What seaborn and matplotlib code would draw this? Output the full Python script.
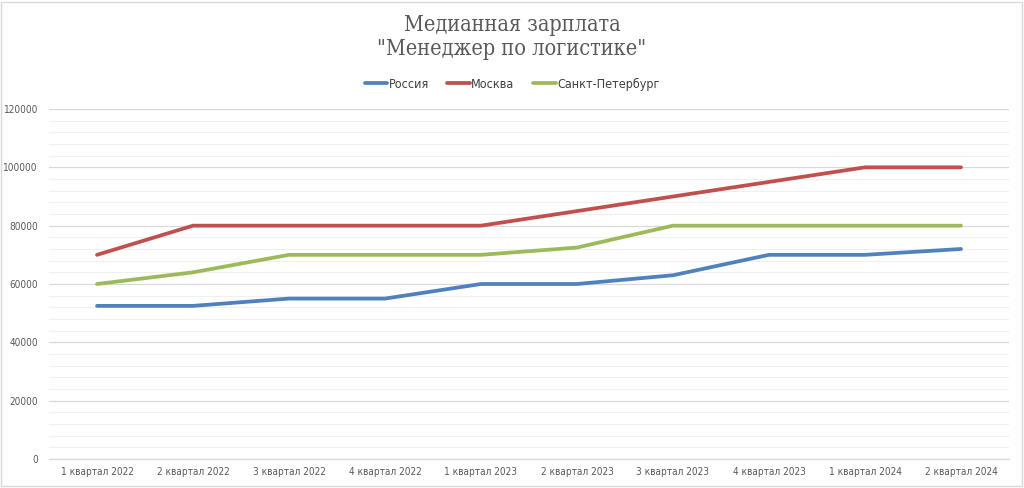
import matplotlib
matplotlib.use("Agg")
import matplotlib.pyplot as plt
import seaborn as sns
import pandas as pd
from matplotlib.ticker import MultipleLocator
from matplotlib.patches import Rectangle

quarters = ["1 квартал 2022", "2 квартал 2022", "3 квартал 2022", "4 квартал 2022",
            "1 квартал 2023", "2 квартал 2023", "3 квартал 2023", "4 квартал 2023",
            "1 квартал 2024", "2 квартал 2024"]
russia = [52500, 52500, 55000, 55000, 60000, 60000, 63000, 70000, 70000, 72000]
moscow = [70000, 80000, 80000, 80000, 80000, 85000, 90000, 95000, 100000, 100000]
spb = [60000, 64000, 70000, 70000, 70000, 72500, 80000, 80000, 80000, 80000]
series_names = ["Россия", "Москва", "Санкт-Петербург"]
colors = ["#4F81BD", "#C0504D", "#9BBB59"]

rows = []
for name, vals in zip(series_names, [russia, moscow, spb]):
    for q, v in zip(quarters, vals):
        rows.append({"quarter": q, "value": v, "series": name})
df = pd.DataFrame(rows)

sns.set_theme(style="white")
plt.rcParams['font.family'] = ['DejaVu Sans']
plt.rcParams['font.stretch'] = 'condensed'

fig = plt.figure(figsize=(10.24, 4.88), dpi=100)
ax = fig.add_axes([49/1024, 1-459/488, 960/1024, 350/488])

sns.lineplot(data=df, x="quarter", y="value", hue="series", hue_order=series_names,
             palette=colors, linewidth=2.7, sort=False, ax=ax, legend=True)

ax.set_xlim(-0.5, len(quarters) - 0.5)
ax.set_ylim(0, 120000)
ax.yaxis.set_major_locator(MultipleLocator(20000))
ax.yaxis.set_minor_locator(MultipleLocator(4000))
ax.grid(which="major", axis="y", color="#d9d9d9", linewidth=0.9)
ax.grid(which="minor", axis="y", color="#f0f0f0", linewidth=0.8)
ax.set_axisbelow(True)
for s in ["top", "right", "left"]:
    ax.spines[s].set_visible(False)
ax.spines["bottom"].set_color("#d9d9d9")
ax.spines["bottom"].set_linewidth(0.9)
ax.tick_params(axis="both", which="both", length=0, colors="#595959", labelsize=7.2)
ax.tick_params(axis="y", pad=8)
ax.tick_params(axis="x", pad=6)
ax.set_xlabel("")
ax.set_ylabel("")

ax.get_legend().remove()
handles, labels = ax.get_legend_handles_labels()
fig.legend(handles, labels, loc="center", bbox_to_anchor=(0.5, 1 - 84/488), ncol=3,
           frameon=False, handlelength=1.8, handletextpad=0.1,
           columnspacing=1.5, labelcolor="#404040",
           prop={"family": "DejaVu Sans", "size": 9, "stretch": "condensed"})

fig.text(0.5, 1 - 37/488, "Медианная зарплата\n\"Менеджер по логистике\"", ha="center", va="center",
         fontsize=15.5, color="#595959", family="DejaVu Serif", stretch="condensed",
         linespacing=1.1)

fig.patches.append(Rectangle((1/1024, 2/488), 1021/1024, 484/488, transform=fig.transFigure,
                             fill=False, edgecolor="#d9d9d9", linewidth=1.0))

fig.savefig("out.png", dpi=100)
